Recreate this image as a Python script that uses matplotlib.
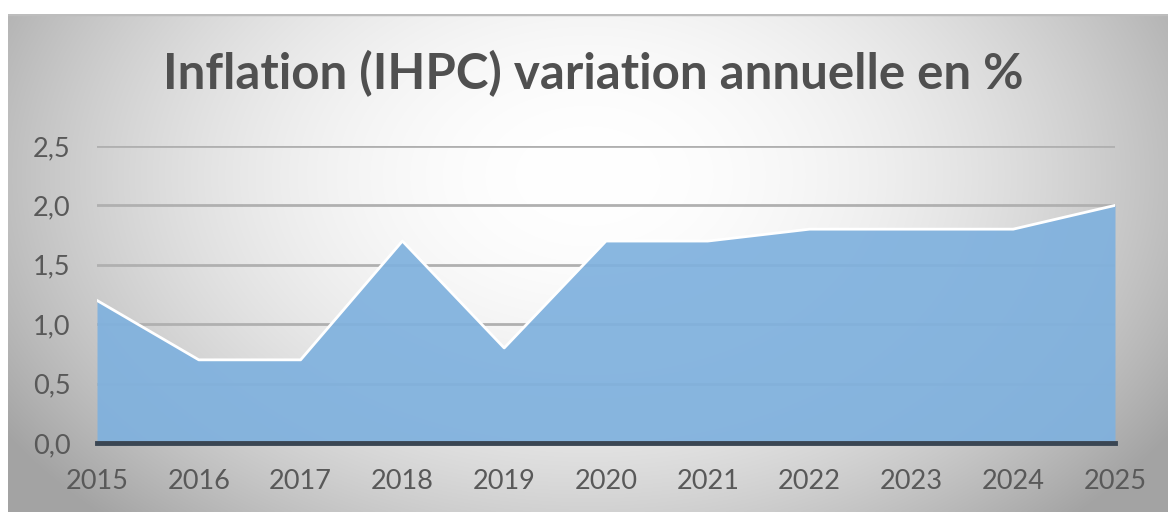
import numpy as np
import matplotlib.pyplot as plt
from matplotlib.ticker import FuncFormatter

# data
years = [2015, 2016, 2017, 2018, 2019, 2020, 2021, 2022, 2023, 2024, 2025]
inflation = [1.2, 0.7, 0.7, 1.7, 0.8, 1.7, 1.7, 1.8, 1.8, 1.8, 2.0]
title = "Inflation (IHPC) variation annuelle en %"

plt.rcParams['font.family'] = ['Lato', 'DejaVu Sans']

fig = plt.figure(figsize=(11.68, 5.12), dpi=100)
fig.patch.set_facecolor('white')

# radial gradient background of the chart box
bg = fig.add_axes([8 / 1168, 0, 1 - 8 / 1168, 1 - 14 / 512], zorder=-10)
xx, yy = np.meshgrid(np.linspace(-1, 1, 600), np.linspace(-1, 1, 300))
r = np.sqrt(((xx - 0.0) / 1.0) ** 2 + ((yy + 0.35) / 1.6) ** 2)
shade = 1.0 - 0.25 * np.clip(r, 0, 1.2) ** 2.0
bg.imshow(np.dstack([shade] * 3), aspect='auto', extent=[0, 1, 0, 1],
          vmin=0, vmax=1, interpolation='bilinear')
bg.plot([0, 1], [1, 1], color='#bdbdbd', lw=2.5, transform=bg.transAxes)
bg.set_axis_off()

ax = fig.add_axes([97 / 1168, 1 - 443 / 512, (1115 - 97) / 1168, (443 - 146) / 512])
ax.set_facecolor('none')

ax.fill_between(years, inflation, 0, color='#7fb1de', alpha=0.92, lw=0, zorder=2)
ax.plot(years, inflation, color='white', lw=2, zorder=3)

ax.set_xlim(years[0], years[-1])
ax.set_ylim(0, 2.5)
ax.set_yticks(np.arange(0, 2.51, 0.5))
ax.set_xticks(years)
ax.yaxis.set_major_formatter(FuncFormatter(lambda v, p: f"{v:.1f}".replace('.', ',')))
ax.grid(axis='y', color='#b0b0b0', lw=2, zorder=1)
ax.set_axisbelow(True)

for s in ['top', 'right', 'left']:
    ax.spines[s].set_visible(False)
ax.spines['bottom'].set_color('#3a4653')
ax.spines['bottom'].set_linewidth(3.5)
ax.spines['bottom'].set_zorder(4)
ax.tick_params(length=0, labelsize=19.5, colors='#595959')
ax.tick_params(axis='x', pad=19)
ax.tick_params(axis='y', pad=19)

fig.text(0.508, 1 - 74 / 512, title, ha='center', va='center',
         fontsize=35.5, fontweight='bold', color='#505050')

fig.savefig('out.png', dpi=100)
